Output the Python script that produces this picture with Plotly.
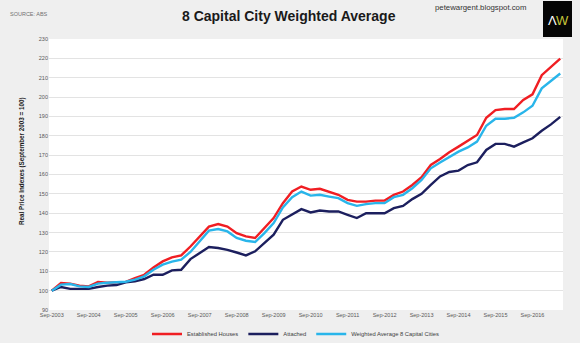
import plotly.graph_objects as go

# Quarterly periods, Sep-2003 .. Jun-2017
months = ["Sep", "Dec", "Mar", "Jun"]
periods = []
for k in range(56):
    m = months[k % 4]
    yr = 2003 + (k + 1) // 4 if m != "Sep" and m != "Dec" else 2003 + k // 4
    periods.append(f"{m}-{yr}")

tick_labels = [f"Sep-{y}" for y in range(2003, 2017)]

established_houses = [
    100.0, 104.0, 103.6, 102.6, 102.2, 104.5, 104.1, 104.3, 104.5, 106.5,
    108.2, 112.0, 115.1, 117.2, 118.2, 122.8, 128.0, 133.1, 134.4, 133.1,
    129.7, 128.0, 127.2, 132.3, 137.5, 145.2, 151.2, 153.8, 152.1, 152.6,
    151.2, 149.5, 146.9, 146.0, 146.0, 146.5, 146.5, 149.5, 151.2, 154.6,
    158.6, 164.9, 168.0, 171.5, 174.4, 177.3, 180.4, 189.3, 193.3, 193.8,
    193.8, 198.5, 201.4, 211.3, 215.6, 219.9,
]

attached = [
    100.0, 101.9, 100.9, 100.9, 100.9, 101.9, 102.6, 102.9, 104.3, 104.8,
    106.0, 108.2, 108.2, 110.5, 110.8, 116.3, 119.4, 122.5, 122.0, 121.1,
    119.7, 118.2, 120.3, 124.6, 128.9, 136.6, 139.2, 142.1, 140.4, 141.4,
    140.9, 140.9, 139.2, 137.5, 140.0, 140.0, 140.0, 142.6, 143.8, 147.3,
    150.0, 154.6, 159.0, 161.3, 162.0, 164.9, 166.3, 172.7, 175.8, 175.8,
    174.4, 176.6, 178.7, 182.6, 185.9, 189.8,
]

weighted_average = [
    100.0, 103.1, 103.4, 102.2, 101.9, 103.6, 104.1, 104.5, 104.6, 105.7,
    107.4, 110.8, 113.4, 115.0, 116.0, 120.0, 125.5, 131.0, 131.8, 130.6,
    127.2, 125.8, 125.1, 129.7, 134.9, 143.0, 148.3, 151.2, 149.1, 149.5,
    148.6, 147.8, 145.2, 143.8, 144.7, 145.2, 145.2, 148.3, 149.5, 152.9,
    157.2, 163.2, 166.2, 169.2, 171.8, 174.0, 177.0, 185.2, 188.8, 188.8,
    189.3, 192.1, 195.5, 204.5, 208.4, 212.2,
]

W, H = 580, 343
L, R, T, B = 49, 17, 39, 33
PW, PH = W - L - R, H - T - B


def px(x):
    return (x - L) / PW


def py(y):
    return (H - B - y) / PH


FONT = "Liberation Sans, Arial, sans-serif"

fig = go.Figure()
series = [
    ("Established Houses", established_houses, "#f01e23"),
    ("Attached", attached, "#1c1f5e"),
    ("Weighted Average 8 Capital Cities", weighted_average, "#29b5ea"),
]
for name, vals, col in series:
    fig.add_trace(go.Scatter(
        x=periods, y=vals, name=name, mode="lines",
        line=dict(color=col, width=2.4),
    ))

fig.update_layout(
    width=W, height=H,
    margin=dict(l=L, r=R, t=T, b=B, autoexpand=False),
    paper_bgcolor="#efefef",
    plot_bgcolor="#ffffff",
    font=dict(family=FONT, color="#595959", size=5.5),
    showlegend=True,
    legend=dict(
        orientation="h", xref="container", x=147 / W, xanchor="left",
        yref="container", y=1 - 334 / H, yanchor="middle",
        font=dict(size=5.8, color="#404040"), bgcolor="rgba(0,0,0,0)",
        itemwidth=30, tracegroupgap=0,
    ),
    xaxis=dict(
        type="category", range=[-0.3, 55.3],
        tickmode="array", tickvals=[periods[i] for i in range(0, 56, 4)][:len(tick_labels)],
        ticktext=tick_labels, showgrid=False, zeroline=False, showline=False,
        ticks="", tickfont=dict(size=5.5, color="#595959"),
    ),
    yaxis=dict(
        range=[90, 230], tickmode="linear", tick0=90, dtick=10,
        showgrid=True, gridcolor="#e3e3e3", gridwidth=1, zeroline=False,
        showline=False, ticks="", tickfont=dict(size=5.5, color="#595959"),
    ),
)

annotations = [
    dict(text="<b>8 Capital City Weighted Average</b>", x=px(289), y=py(16),
         font=dict(size=14, color="#1a1a1a")),
    dict(text="SOURCE: ABS", x=px(8), y=py(14), xanchor="left",
         font=dict(size=5.5, color="#707070")),
    dict(text="petewargent.blogspot.com", x=px(480), y=py(7),
         font=dict(size=7.8, color="#333333")),
    dict(text="<b>Real Price Indexes (September 2003 = 100)</b>", x=px(22), y=py(161),
         textangle=-90, font=dict(size=6.3, color="#1a1a1a")),
    dict(text="Λ", x=px(552), y=py(20), font=dict(size=13, color="#ffffff")),
    dict(text="W", x=px(562), y=py(20), font=dict(size=13, color="#c8c53a")),
]
for a in annotations:
    a.update(xref="paper", yref="paper", showarrow=False)
    a.setdefault("xanchor", "center")
    a.setdefault("yanchor", "middle")
    fig.add_annotation(**a)

fig.add_shape(type="rect", xref="paper", yref="paper",
              x0=px(543), x1=px(572), y0=py(37), y1=py(1),
              fillcolor="#050505", line=dict(width=0), layer="below")

fig.write_html("out.html")
